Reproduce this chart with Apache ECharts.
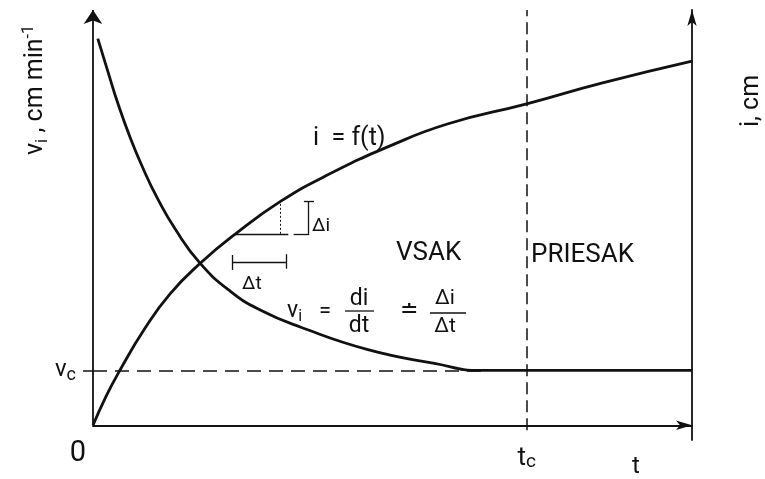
<!DOCTYPE html>
<html>
<head>
<meta charset="utf-8">
<script src="https://cdn.jsdelivr.net/npm/echarts@6/dist/echarts.min.js"></script>
<style>
  html, body { margin: 0; padding: 0; background: #fff; }
  #chart { width: 765px; height: 479px; }
</style>
</head>
<body>
<div id="chart"></div>
<script>
// Cumulative infiltration i = f(t) and infiltration rate v_i (relative units 0..100)
const tI    = [0, 2.0, 4.2, 8.7, 12.9, 17.9, 23.8, 31.3, 39.2, 49.8, 59.3, 72.4, 84.9, 100];
const iVals = [0, 6.4, 12.5, 23.4, 31.7, 39.0, 46.1, 53.9, 60.3, 67.4, 72.6, 77.4, 82.4, 87.7];

const tV    = [0.8, 2.4, 4.2, 6.2, 8.4, 10.7, 13.7, 17.9, 23.0, 28.0, 34.7, 45.9, 57.0, 64.8, 72.4, 100];
const vVals = [93.1, 85.6, 77.3, 69.3, 61.7, 54.8, 47.3, 39.0, 32.2, 27.7, 23.6, 18.2, 14.9, 13.2, 13.2, 13.2];

// steady rate v_c reached at time t_c
const vC = 13.2;
const tC = 72.4;
const vCEnd = 64.8;          // where v_i settles onto v_c

// finite-difference step drawn on i = f(t)
const stepT = [23.8, 31.3];
const stepI = [46.1, 53.9];
const dimI_T = 35.9;         // Δi bracket position
const dimT_I = 39.2;         // Δt dimension line level

const FONT = 'Roboto, "Liberation Sans", Arial, sans-serif';
const INK = '#111';

const chart = echarts.init(document.getElementById('chart'), null, { renderer: 'canvas' });

function seg(a, b, style, extra) {
  return [Object.assign({ coord: a, lineStyle: style }, extra && extra[0]),
          Object.assign({ coord: b }, extra && extra[1])];
}

const thin = { color: INK, width: 1.3, type: 'solid' };

const option = {
  backgroundColor: '#fff',
  animation: false,
  grid: { left: 93, right: 73, top: 10, bottom: 31 },
  xAxis: {
    type: 'value', min: 0, max: 100,
    name: 't', nameLocation: 'end', nameGap: -56,
    nameTextStyle: { fontFamily: FONT, fontSize: 24, color: INK, align: 'center',
                     verticalAlign: 'top', padding: [30, 0, 0, 0] },
    axisLine: { show: true, onZero: true, symbol: ['none', 'arrow'], symbolSize: [7, 16],
                lineStyle: { color: INK, width: 1.8 } },
    axisTick: { show: false },
    splitLine: { show: false },
    axisLabel: {
      customValues: [0, tC],
      margin: 4,
      formatter: v => v === 0 ? '{o|0}' : '{t|t}{c|c}',
      rich: {
        o: { fontFamily: FONT, fontSize: 29, color: INK, lineHeight: 20, padding: [0, 30, 0, 0] },
        t: { fontFamily: FONT, fontSize: 26, color: INK, lineHeight: 28, verticalAlign: 'middle' },
        c: { fontFamily: FONT, fontSize: 19, color: INK, lineHeight: 18, verticalAlign: 'bottom' }
      }
    }
  },
  yAxis: [
    {
      type: 'value', min: -3.55, max: 100, position: 'left',
      axisLine: { show: false },
      splitLine: { show: false },
      axisTick: { show: true, customValues: [vC], length: 10, lineStyle: { color: INK, width: 1.5 } },
      axisLabel: {
        customValues: [vC], margin: 17,
        formatter: () => '{v|v}{c|c}',
        rich: {
          v: { fontFamily: FONT, fontSize: 24, color: INK, lineHeight: 28, verticalAlign: 'middle' },
          c: { fontFamily: FONT, fontSize: 18, color: INK, lineHeight: 14, verticalAlign: 'bottom' }
        }
      }
    },
    {
      type: 'value', min: -3.55, max: 100, position: 'right',
      axisLine: { show: true, symbol: ['none', 'arrow'], symbolSize: [7, 16],
                  lineStyle: { color: INK, width: 1.8 } },
      axisTick: { show: false },
      axisLabel: { show: false },
      splitLine: { show: false }
    }
  ],
  series: [
    {
      name: 'v_i', type: 'line', yAxisIndex: 0,
      data: tV.map((t, k) => [t, vVals[k]]),
      smooth: 0.5, showSymbol: false, clip: false,
      lineStyle: { color: INK, width: 2.8 },
      markLine: {
        silent: true, symbol: 'none', label: { show: false },
        data: [
          // rate axis
          seg([0, 0], [0, 100], { color: INK, width: 1.8, type: 'solid' },
              [{ symbol: 'none' }, { symbol: 'arrow', symbolSize: 14 }]),
          // steady infiltration rate
          seg([0, vC], [vCEnd, vC], { color: INK, width: 1.5, type: [14, 8] }),
          // time t_c
          seg([tC, -1.2], [tC, 100], { color: INK, width: 1.5, type: [12, 6] })
        ]
      }
    },
    {
      name: 'i', type: 'line', yAxisIndex: 1,
      data: tI.map((t, k) => [t, iVals[k]]),
      smooth: 0.5, showSymbol: false, clip: false,
      lineStyle: { color: INK, width: 2.8 },
      markLine: {
        silent: true, symbol: 'none', label: { show: false },
        data: [
          seg([stepT[0], stepI[0]], [stepT[1] + 1.3, stepI[0]], thin),
          seg([stepT[1], stepI[0]], [stepT[1], stepI[1]], { color: INK, width: 1, type: [2, 2] }),
          // Δi bracket
          seg([dimI_T, stepI[0]], [dimI_T, stepI[1]], thin),
          seg([dimI_T - 2.4, stepI[0]], [dimI_T + 0.2, stepI[0]], thin),
          seg([dimI_T - 0.7, stepI[1]], [dimI_T + 1.0, stepI[1]], thin),
          // Δt dimension
          seg([stepT[0] - 0.5, dimT_I], [stepT[1] + 0.9, dimT_I], thin),
          seg([stepT[0] - 0.5, dimT_I - 1.8], [stepT[0] - 0.5, dimT_I + 1.8], thin),
          seg([stepT[1] + 0.9, dimT_I - 1.5], [stepT[1] + 0.9, dimT_I + 2.0], thin)
        ]
      }
    }
  ],
  graphic: [
    // axis titles
    {
      type: 'text', x: 36, y: 90, rotation: Math.PI / 2,
      style: {
        text: '{v|v}{s|i}{n| , cm min}{p|-1}',
        align: 'center', verticalAlign: 'middle',
        rich: {
          v: { fontFamily: FONT, fontSize: 25, fill: INK, lineHeight: 30, verticalAlign: 'middle' },
          s: { fontFamily: FONT, fontSize: 17, fill: INK, lineHeight: 14, verticalAlign: 'bottom' },
          n: { fontFamily: FONT, fontSize: 25, fill: INK, lineHeight: 30, verticalAlign: 'middle' },
          p: { fontFamily: FONT, fontSize: 16, fill: INK, lineHeight: 12, verticalAlign: 'top' }
        }
      }
    },
    {
      type: 'text', x: 752, y: 101, rotation: Math.PI / 2,
      style: { text: 'i, cm', font: '25px ' + FONT, fill: INK, align: 'center', verticalAlign: 'middle' }
    },
    // curve / region labels
    { type: 'text', x: 313, y: 139,
      style: { text: 'i  = f(t)', font: '25px ' + FONT, fill: INK, align: 'left', verticalAlign: 'middle' } },
    { type: 'text', x: 396, y: 253,
      style: { text: 'VSAK', font: '26px ' + FONT, fill: INK, align: 'left', verticalAlign: 'middle' } },
    { type: 'text', x: 531, y: 255,
      style: { text: 'PRIESAK', font: '26px ' + FONT, fill: INK, align: 'left', verticalAlign: 'middle' } },
    { type: 'text', x: 312, y: 226,
      style: { text: 'Δi', font: '19px ' + FONT, fill: INK, align: 'left', verticalAlign: 'middle' } },
    { type: 'text', x: 242, y: 284,
      style: { text: 'Δt', font: '19px ' + FONT, fill: INK, align: 'left', verticalAlign: 'middle' } },
    // v_i = di/dt ≐ Δi/Δt
    {
      type: 'group', x: 0, y: 0,
      children: [
        { type: 'text', x: 287, y: 311,
          style: { text: '{v|v}{s|i}', align: 'left', verticalAlign: 'middle',
            rich: {
              v: { fontFamily: FONT, fontSize: 23, fill: INK, lineHeight: 28, verticalAlign: 'middle' },
              s: { fontFamily: FONT, fontSize: 16, fill: INK, lineHeight: 14, verticalAlign: 'bottom' }
            } } },
        { type: 'text', x: 325, y: 311,
          style: { text: '=', font: '22px ' + FONT, fill: INK, align: 'center', verticalAlign: 'middle' } },
        { type: 'text', x: 359, y: 299,
          style: { text: 'di', font: '23px ' + FONT, fill: INK, align: 'center', verticalAlign: 'middle' } },
        { type: 'line', shape: { x1: 345, y1: 311, x2: 374, y2: 311 }, style: { stroke: INK, lineWidth: 1.3 } },
        { type: 'text', x: 359, y: 326,
          style: { text: 'dt', font: '23px ' + FONT, fill: INK, align: 'center', verticalAlign: 'middle' } },
        { type: 'text', x: 409, y: 311,
          style: { text: '≐', font: '22px ' + FONT, fill: INK, align: 'center', verticalAlign: 'middle' } },
        { type: 'text', x: 445, y: 299,
          style: { text: 'Δi', font: '21px ' + FONT, fill: INK, align: 'center', verticalAlign: 'middle' } },
        { type: 'line', shape: { x1: 430, y1: 313, x2: 466, y2: 313 }, style: { stroke: INK, lineWidth: 1.3 } },
        { type: 'text', x: 445, y: 327,
          style: { text: 'Δt', font: '21px ' + FONT, fill: INK, align: 'center', verticalAlign: 'middle' } }
      ]
    }
  ]
};

chart.setOption(option);
</script>
</body>
</html>
